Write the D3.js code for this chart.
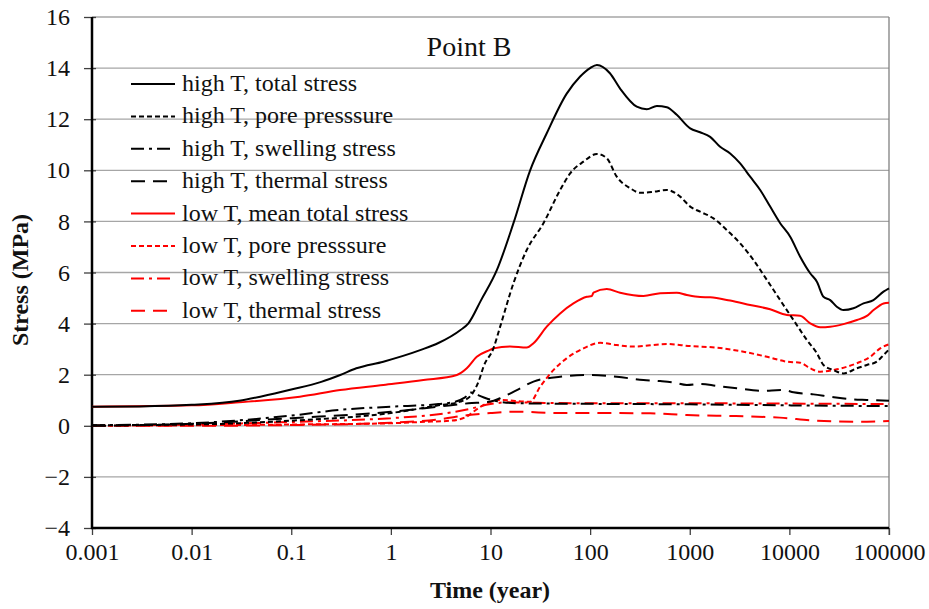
<!DOCTYPE html>
<html><head><meta charset="utf-8">
<script src="https://cdn.jsdelivr.net/npm/d3@7"></script>
<style>body{margin:0;background:#fff}svg text{font-family:"Liberation Serif","Times New Roman",serif !important}</style>
</head><body><svg id="c" width="929" height="609" font-family="Liberation Serif"></svg>
<script>
// ---- data ----
const xTicks = [0.001,0.01,0.1,1,10,100,1000,10000,100000];
const xTickLabels = ["0.001","0.01","0.1","1","10","100","1000","10000","100000"];
const yTicks = [-4,-2,0,2,4,6,8,10,12,14,16];

const hiTotalT = [0.001,0.003,0.01,0.03,0.05,0.1,0.2,0.31,0.45,0.84,2,3,5,6,8,11.6,17,25,36.7,58,79,100,117,158,200,294,371,467,589,741,1010,1270,1603,2018,2545,3206,4038,5093,6413,8087,10190,12830,16180,18880,21990,25700,29920,34900,43950,55450,69800,88100,100000];
const hiTotalV = [0.75,0.76,0.82,0.98,1.15,1.42,1.72,1.99,2.25,2.51,2.97,3.24,3.75,4.01,4.9,6.1,7.93,10.0,11.45,12.99,13.66,14.0,14.12,13.8,13.2,12.49,12.39,12.52,12.47,12.17,11.64,11.49,11.31,10.92,10.66,10.27,9.75,9.23,8.58,7.93,7.40,6.62,5.97,5.64,5.05,4.92,4.66,4.53,4.6,4.79,4.92,5.25,5.38];

const hiPoreT = [0.001,0.01,0.1,1,3,5,6.4,7.8,8.5,10.7,12.5,17,23.1,34,50,63,85.7,117,147,185,252,318,432,589,801,1010,1270,1730,2357,3206,4363,5943,8087,10990,14990,18880,21990,27730,34900,47600,60000,75500,88100,100000];
const hiPoreV = [0.02,0.05,0.2,0.5,0.8,0.95,1.2,1.86,2.31,3.03,3.88,5.58,6.88,7.93,9.23,9.88,10.34,10.64,10.47,9.75,9.3,9.12,9.16,9.23,8.97,8.58,8.38,8.12,7.66,7.14,6.49,5.71,4.92,4.14,3.36,2.84,2.38,2.18,2.05,2.25,2.38,2.51,2.77,2.99];

const hiSwellT = [0.001,0.01,0.1,0.3,1,3,4.5,5.5,6.4,7.5,9,12,20,100,1000,10000,100000];
const hiSwellV = [0.02,0.1,0.4,0.62,0.75,0.85,0.95,1.1,1.3,1.2,1.08,0.95,0.88,0.86,0.84,0.8,0.77];

const hiThermT = [0.001,0.01,0.1,1,3,6,10,12.5,18.4,27,50,100,185,343,505,683,935,1270,1870,2970,5093,8730,10990,17460,25700,40800,60000,100000];
const hiThermV = [0.0,0.08,0.3,0.55,0.75,0.88,0.95,1.08,1.40,1.73,1.92,1.99,1.92,1.79,1.75,1.70,1.6,1.64,1.56,1.47,1.37,1.40,1.31,1.23,1.14,1.04,1.01,0.98];

const loTotalT = [0.001,0.01,0.03,0.122,0.309,0.84,2.12,4.59,5.78,7.28,9.9,10.7,15.7,23.1,27,36.7,50,68,92.7,104,108,147,200,343,505,741,935,1270,1603,2545,4038,6413,9440,12830,16180,20370,25700,34900,47600,60000,70000,88100,100000];
const loTotalV = [0.75,0.8,0.92,1.14,1.40,1.60,1.79,1.99,2.25,2.70,2.97,3.03,3.1,3.06,3.23,3.88,4.4,4.79,5.05,5.08,5.21,5.35,5.21,5.08,5.19,5.21,5.12,5.04,5.03,4.9,4.73,4.56,4.34,4.31,4.01,3.86,3.88,3.98,4.14,4.3,4.53,4.79,4.82];

const loPoreT = [0.001,0.01,0.1,1,2,4,5.78,6.73,9.2,12.5,25,31.5,42.8,58,85.7,126,185,272,589,1010,1870,3460,5943,9440,12830,16180,20370,29920,47600,64800,81600,100000];
const loPoreV = [0.0,0.02,0.05,0.1,0.15,0.2,0.36,0.55,0.88,1.01,0.94,1.53,2.18,2.64,3.03,3.25,3.16,3.1,3.2,3.12,3.06,2.9,2.7,2.51,2.47,2.25,2.12,2.21,2.45,2.7,3.03,3.19];

const loSwellT = [0.001,0.01,0.1,1,3,6,10,15,30,100,1000,10000,100000];
const loSwellV = [0.0,0.05,0.15,0.3,0.45,0.65,0.85,0.92,0.9,0.88,0.88,0.87,0.85];

const loThermT = [0.001,0.01,0.1,1,3,6,10,18,50,100,400,935,2900,8000,18880,60000,100000];
const loThermV = [0.0,0.0,0.03,0.12,0.25,0.42,0.5,0.55,0.5,0.5,0.49,0.42,0.38,0.32,0.2,0.16,0.19];

const seriesNames = ["high T, total stress","high T, pore presssure","high T, swelling stress","high T, thermal stress","low T, mean total stress","low T, pore presssure","low T, swelling stress","low T, thermal stress"];
const seriesT = [hiTotalT,hiPoreT,hiSwellT,hiThermT,loTotalT,loPoreT,loSwellT,loThermT];
const seriesV = [hiTotalV,hiPoreV,hiSwellV,hiThermV,loTotalV,loPoreV,loSwellV,loThermV];
const seriesColor = ["#000","#000","#000","#000","#ff0000","#ff0000","#ff0000","#ff0000"];
const seriesDash = [null,"5,3","13,5,3,5","14,8",null,"5,3","13,5,3,5","14,8"];

// ---- chart ----
const FONT = "'Liberation Serif','Times New Roman',serif";
const svg = d3.select("#c");
const L=92,R=889,T=17,B=528;
const x = d3.scaleLog().domain([0.001,100000]).range([L,R]);
const y = d3.scaleLinear().domain([-4,16]).range([B,T]);

// gridlines
svg.append("g").selectAll("line").data(yTicks.filter(v=>v>-4)).join("line")
  .attr("x1",L).attr("x2",R).attr("y1",d=>y(d)).attr("y2",d=>y(d))
  .attr("stroke","#a6a6a6").attr("stroke-width",1.3);
svg.append("line").attr("x1",R).attr("x2",R).attr("y1",T).attr("y2",B+7)
  .attr("stroke","#808080").attr("stroke-width",1.3);

// y axis
const yAx = svg.append("g").attr("transform",`translate(${L},0)`)
  .call(d3.axisLeft(y).tickValues(yTicks).tickSize(8).tickFormat(d3.format("d")))
  .attr("font-family",FONT);
yAx.select(".domain").remove();
yAx.selectAll(".tick line").attr("x2",-8).attr("x1",4).attr("stroke","#404040").attr("stroke-width",1.3);
yAx.selectAll(".tick text").attr("x",-22).attr("font-size",24).attr("fill","#111")
  .style("font-family",FONT);
svg.append("line").attr("x1",L).attr("x2",L).attr("y1",T).attr("y2",B+1).attr("stroke","#000").attr("stroke-width",2.5);

// x axis
const xAx = svg.append("g").attr("transform",`translate(0,${B})`)
  .call(d3.axisBottom(x).tickValues(xTicks).tickSize(7).tickFormat((d,i)=>xTickLabels[i]))
  .attr("font-family",FONT);
xAx.select(".domain").remove();
xAx.selectAll(".tick line").attr("stroke","#404040").attr("stroke-width",1.3);
xAx.selectAll(".tick text").attr("y",15).attr("font-size",24).attr("fill","#111")
  .style("font-family",FONT);
svg.append("line").attr("x1",L-1).attr("x2",R).attr("y1",B).attr("y2",B).attr("stroke","#000").attr("stroke-width",2.5);

// lines
const line = d3.line().x(d=>x(d[0])).y(d=>y(d[1])).curve(d3.curveMonotoneX);
const order=[7,6,5,4,3,2,1,0];
order.forEach(i=>{
  const pts = seriesT[i].map((t,k)=>[t,seriesV[i][k]]);
  svg.append("path").datum(pts).attr("d",line).attr("fill","none")
    .attr("stroke",seriesColor[i]).attr("stroke-width",2)
    .attr("stroke-dasharray",seriesDash[i]);
});

// title
svg.append("text").attr("x",469).attr("y",56).attr("text-anchor","middle").attr("font-size",28).attr("fill","#111").style("font-family",FONT).text("Point B");

// legend
const lg = svg.append("g");
seriesNames.forEach((n,i)=>{
  const yy = 84 + i*32.4;
  lg.append("line").attr("x1",131).attr("x2",175).attr("y1",yy).attr("y2",yy)
    .attr("stroke",seriesColor[i]).attr("stroke-width",2).attr("stroke-dasharray",seriesDash[i]);
  lg.append("text").attr("x",182).attr("y",yy+7).attr("font-size",24).attr("fill","#111").style("font-family",FONT).text(n);
});

// axis titles
svg.append("text").attr("x",490).attr("y",598).attr("text-anchor","middle").attr("font-size",24).attr("font-weight","bold").attr("fill","#111").style("font-family",FONT).text("Time (year)");
svg.append("text").attr("transform","translate(28,280) rotate(-90)").attr("text-anchor","middle").attr("font-size",24).attr("font-weight","bold").attr("fill","#111").style("font-family",FONT).text("Stress (MPa)");
</script></body></html>
